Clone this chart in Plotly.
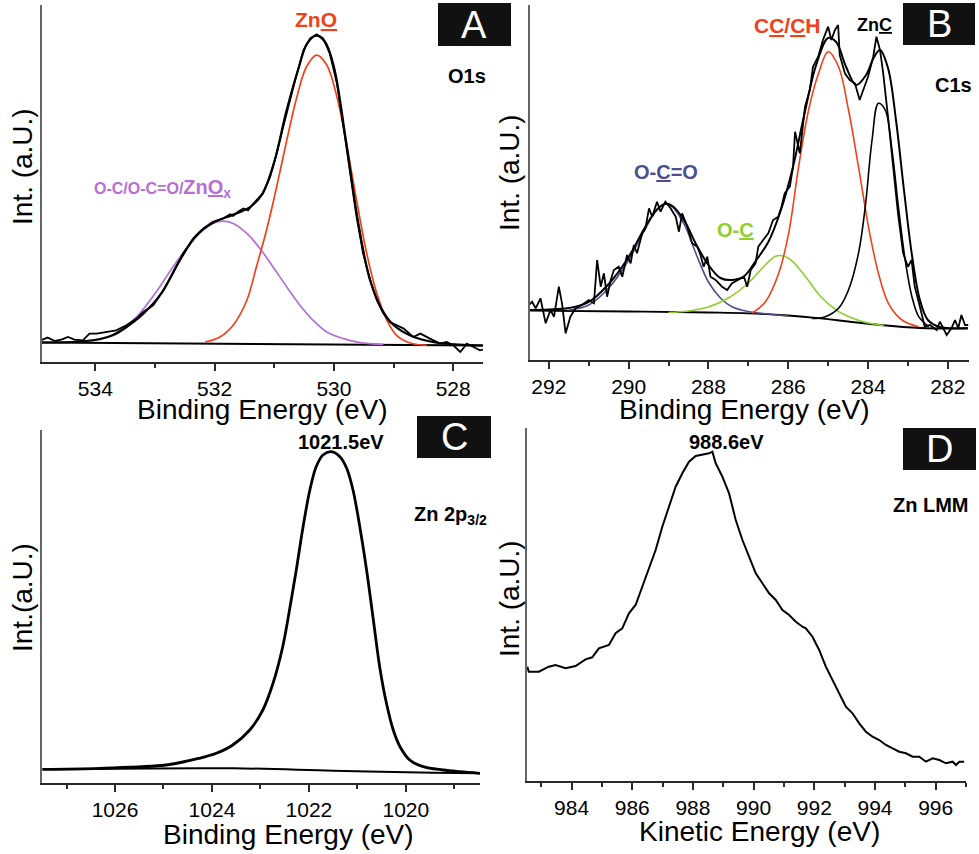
import plotly.graph_objects as go

W, H = 979, 854
FONT = "Liberation Sans, Arial, sans-serif"
RED = "#f2401b"
PURPLE = "#b56fd6"
GREEN = "#8dcf2c"
SLATE = "#4e4e8c"

# ---------------- A: O1s ----------------
a_raw_be = [534.91, 534.80, 534.68, 534.57, 534.46, 534.35, 534.21, 534.10, 533.98, 533.82,
            533.65, 533.48, 533.31, 533.20, 533.03, 532.86, 532.70, 532.53, 532.36, 532.19,
            532.03, 531.86, 531.74, 531.69, 531.60, 531.52, 531.44, 531.35, 531.19, 531.07,
            530.96, 530.85, 530.74, 530.62, 530.51, 530.40, 530.29, 530.18, 530.07, 529.95,
            529.84, 529.73, 529.62, 529.51, 529.39, 529.28, 529.17, 529.06, 528.95, 528.83,
            528.67, 528.55, 528.39, 528.22, 528.11, 528.00, 527.88, 527.77, 527.66, 527.55,
            527.50]
a_raw_int = [21.7, 24.4, 21.0, 22.4, 25.0, 22.4, 21.7, 28.4, 28.4, 30.0,
             31.7, 36.7, 43.4, 50.0, 56.7, 71.7, 88.4, 108.4, 123.4, 133.4,
             140.0, 143.4, 147.5, 146.0, 150.5, 153.4, 151.5, 158.4, 168.4, 185.0,
             208.4, 235.0, 261.7, 288.4, 311.7, 323.4, 327.4, 323.4, 308.4, 278.4,
             235.0, 188.4, 145.0, 108.4, 81.7, 61.7, 48.4, 40.0, 36.7, 33.4,
             25.0, 28.4, 23.4, 18.4, 20.0, 16.7, 10.0, 18.4, 15.0, 11.7,
             12.4]
a_fit_be = [534.9, 534.4, 534.0, 533.7, 533.5, 533.2, 532.9, 532.6, 532.3, 532.0,
            531.7, 531.4, 531.2, 531.0, 530.8, 530.6, 530.45, 530.3, 530.15, 530.0,
            529.8, 529.6, 529.4, 529.2, 529.0, 528.7, 528.3, 527.9, 527.5]
a_fit_int = [19.5, 20.0, 22.0, 27.0, 34.0, 48.0, 68.0, 100.0, 127.0, 140.0,
             147.0, 155.0, 168.0, 200.0, 250.0, 292.0, 318.0, 326.0, 320.0, 295.0,
             222.0, 142.0, 83.0, 53.0, 37.0, 26.0, 19.5, 17.3, 16.5]
a_zno_be = [532.16, 531.91, 531.69, 531.46, 531.30, 531.13, 530.96, 530.79, 530.62, 530.46,
            530.29, 530.12, 529.95, 529.79, 529.62, 529.45, 529.28, 529.11, 528.95, 528.72,
            528.44]
a_zno_int = [20.0, 25.0, 36.7, 61.7, 95.0, 131.7, 175.0, 221.7, 265.0, 295.0,
             306.7, 296.7, 265.0, 218.4, 161.7, 108.4, 68.4, 41.7, 26.7, 19.0,
             16.7]
a_ox_be = [534.3, 533.8, 533.5, 533.25, 532.98, 532.70, 532.47, 532.25, 532.03, 531.86,
           531.69, 531.46, 531.24, 531.02, 530.79, 530.57, 530.35, 530.12, 529.84, 529.56,
           529.17]
a_ox_int = [20.5, 25.0, 35.0, 49.0, 70.0, 95.0, 113.4, 128.4, 138.4, 140.7,
            138.4, 128.4, 113.4, 95.0, 75.0, 56.7, 41.7, 30.0, 23.4, 19.4,
            17.7]
a_bg_be = [534.9, 527.5]
a_bg_int = [19.4, 16.5]

# ---------------- B: C1s ----------------
b_raw_be = [292.50, 292.42, 292.33, 292.21, 292.08, 291.96, 291.87, 291.75, 291.67, 291.58,
            291.46, 291.33, 291.17, 291.00, 290.87, 290.79, 290.70, 290.62, 290.54, 290.45,
            290.37, 290.25, 290.16, 290.04, 289.95, 289.87, 289.79, 289.66, 289.58, 289.49,
            289.41, 289.29, 289.20, 289.08, 288.95, 288.82, 288.74, 288.66, 288.53, 288.41,
            288.28, 288.20, 288.12, 288.03, 287.95, 287.82, 287.66, 287.53, 287.41, 287.24,
            287.11, 287.03, 286.94, 286.82, 286.75, 286.63, 286.50, 286.38, 286.25, 286.17,
            286.09, 285.96, 285.88, 285.83, 285.71, 285.58, 285.46, 285.38, 285.25, 285.13,
            285.00, 284.92, 284.83, 284.75, 284.71, 284.58, 284.46, 284.33, 284.21, 284.12,
            284.00, 283.87, 283.79, 283.70, 283.62, 283.50, 283.37, 283.25, 283.12, 283.00,
            282.91, 282.83, 282.70, 282.58, 282.45, 282.28, 282.20, 282.12, 282.03, 281.91,
            281.82, 281.74, 281.66, 281.57, 281.49]
b_raw_int = [55.0, 58.3, 51.7, 61.7, 36.7, 50.0, 43.3, 73.3, 56.7, 26.7,
             43.3, 51.7, 55.0, 60.0, 56.7, 100.0, 73.3, 86.7, 63.3, 80.0,
             90.0, 93.3, 83.3, 105.0, 96.7, 115.0, 106.7, 126.7, 131.7, 151.7,
             143.3, 158.3, 148.3, 158.3, 151.7, 143.3, 128.3, 146.7, 133.3, 116.7,
             113.3, 105.0, 93.3, 103.3, 83.3, 80.0, 73.3, 70.0, 76.7, 80.0,
             83.3, 73.3, 90.0, 96.7, 113.3, 120.0, 126.7, 140.0, 143.3, 153.3,
             166.7, 173.3, 193.3, 228.3, 206.7, 253.3, 270.0, 293.3, 303.3, 320.0,
             333.3, 320.0, 330.0, 335.0, 305.0, 286.7, 280.0, 276.7, 260.0, 270.0,
             283.3, 303.3, 323.3, 310.0, 286.7, 243.3, 193.3, 146.7, 106.7, 93.3,
             100.0, 73.3, 53.3, 33.3, 35.0, 30.0, 38.3, 31.7, 25.0, 31.7,
             40.0, 31.7, 45.0, 35.0, 35.0]
b_fit_be = [292.5, 292.0, 291.5, 291.0, 290.5, 290.0, 289.6, 289.3, 289.1, 288.9,
            288.6, 288.3, 288.0, 287.7, 287.4, 287.1, 286.8, 286.5, 286.2, 285.9,
            285.6, 285.3, 285.0, 284.8, 284.55, 284.3, 284.05, 283.85, 283.7, 283.5,
            283.3, 283.1, 282.9, 282.7, 282.5, 282.2, 281.5]
b_fit_int = [50.0, 50.5, 52.0, 58.0, 76.0, 103.0, 132.0, 150.0, 156.0, 154.0,
             139.0, 115.0, 95.0, 82.0, 80.0, 84.0, 100.0, 118.0, 148.0, 190.0,
             245.0, 295.0, 322.0, 318.0, 293.0, 275.0, 285.0, 303.0, 310.0, 292.0,
             240.0, 170.0, 105.0, 60.0, 40.0, 33.0, 32.0]
b_oco_be = [291.5, 291.0, 290.5, 290.0, 289.6, 289.3, 289.1, 288.9, 288.6, 288.3,
            288.0, 287.7, 287.4, 287.0, 286.5, 286.0]
b_oco_int = [50.0, 55.0, 72.0, 100.0, 130.0, 150.0, 156.0, 153.0, 135.0, 105.0,
             78.0, 62.0, 53.0, 48.5, 46.0, 44.0]
b_oc_be = [289.0, 288.5, 288.0, 287.5, 287.0, 286.6, 286.3, 286.0, 285.6, 285.2,
           284.8, 284.4, 284.0, 283.6]
b_oc_int = [47.5, 49.0, 53.0, 62.0, 77.0, 94.0, 104.0, 102.0, 85.0, 64.0,
            50.0, 42.0, 37.0, 34.5]
b_cc_be = [286.91, 286.57, 286.24, 285.99, 285.74, 285.49, 285.24, 285.00, 284.74, 284.49,
           284.24, 283.99, 283.74, 283.49, 283.15, 282.73]
b_cc_int = [46.7, 58.3, 86.7, 126.7, 193.3, 250.0, 286.7, 308.3, 293.3, 250.0,
            193.3, 133.3, 86.7, 56.7, 40.0, 33.3]
b_znc_be = [285.40, 285.07, 284.74, 284.49, 284.24, 284.07, 283.90, 283.74, 283.57, 283.40,
            283.24, 283.07, 282.90, 282.73, 282.48]
b_znc_int = [41.5, 43.3, 51.7, 70.0, 106.7, 153.3, 220.0, 256.7, 250.0, 210.0,
             153.3, 100.0, 63.3, 43.3, 33.3]
b_bg_be = [292.5, 290.0, 288.0, 287.0, 286.0, 285.2, 284.5, 283.7, 282.7, 281.5]
b_bg_int = [49.3, 48.5, 47.5, 46.7, 44.5, 41.7, 38.5, 35.0, 32.0, 31.5]

# ---------------- C: Zn 2p3/2 ----------------
c_be = [1027.50, 1026.32, 1024.95, 1024.26, 1023.91, 1023.57, 1023.22, 1022.95, 1022.74, 1022.54,
        1022.40, 1022.26, 1022.12, 1021.98, 1021.85, 1021.71, 1021.54, 1021.36, 1021.22, 1021.09,
        1020.95, 1020.81, 1020.67, 1020.54, 1020.40, 1020.26, 1020.12, 1019.92, 1019.64, 1019.23,
        1018.89, 1018.47]
c_int = [13.7, 14.7, 18.0, 24.7, 29.7, 38.0, 53.0, 73.0, 99.7, 136.3,
         173.0, 213.0, 256.3, 293.0, 316.3, 328.0, 331.3, 326.3, 314.7, 293.0,
         256.3, 213.0, 163.0, 116.3, 79.7, 53.0, 36.3, 23.0, 16.3, 13.0,
         11.3, 9.7]
c_bg_be = [1027.5, 1023.57, 1021.5, 1019.43, 1018.47]
c_bg_int = [13.7, 14.7, 12.3, 10.3, 9.7]

# ---------------- D: Zn LMM ----------------
d_ke = [982.54, 982.59, 982.92, 983.25, 983.47, 983.80, 984.13, 984.46, 984.68, 984.90,
        985.23, 985.45, 985.67, 985.89, 986.11, 986.33, 986.55, 986.77, 986.99, 987.21,
        987.43, 987.65, 987.87, 988.09, 988.31, 988.53, 988.64, 988.75, 988.97, 989.19,
        989.41, 989.63, 989.85, 990.07, 990.29, 990.51, 990.73, 990.95, 991.17, 991.39,
        991.61, 991.72, 991.94, 992.16, 992.38, 992.60, 992.82, 993.04, 993.26, 993.48,
        993.70, 993.92, 994.14, 994.36, 994.58, 994.80, 995.02, 995.24, 995.46, 995.68,
        995.90, 996.12, 996.34, 996.56, 996.67, 996.78, 996.94]
d_int = [114.3, 109.3, 109.3, 114.3, 116.0, 112.7, 115.0, 121.7, 123.7, 132.7,
         136.0, 147.7, 152.7, 167.7, 176.0, 194.3, 214.3, 231.0, 254.3, 274.3,
         294.3, 307.7, 319.3, 325.0, 326.0, 327.7, 329.3, 317.7, 304.3, 287.7,
         261.0, 241.0, 224.3, 207.7, 197.7, 187.7, 181.0, 171.0, 166.0, 159.3,
         154.3, 152.7, 144.3, 131.0, 114.3, 101.0, 87.7, 74.3, 67.7, 57.7,
         49.3, 44.3, 41.0, 36.0, 32.7, 29.3, 27.7, 24.3, 24.3, 19.3,
         22.7, 21.0, 17.7, 19.3, 16.0, 19.3, 19.3]


def px(x):
    return x / W


def py(y):
    return 1 - y / H


def line(x, y, ax, color="black", width=2.0, smooth=False):
    return go.Scatter(
        x=x, y=y, xaxis="x" + ax, yaxis="y" + ax, mode="lines",
        line=dict(color=color, width=width, shape="spline" if smooth else "linear"),
        showlegend=False, hoverinfo="skip",
    )


def xaxis(left, right, rng, anchor):
    return dict(
        domain=[px(left), px(right)], anchor=anchor, range=rng,
        showline=True, linecolor="#2a2a2a", linewidth=2,
        ticks="outside", ticklen=7, tickwidth=1.5, tickcolor="#2a2a2a",
        tick0=0, dtick=2,
        minor=dict(ticks="outside", ticklen=4, tickwidth=1.5, tickcolor="#2a2a2a", dtick=1),
        tickfont=dict(size=21, color="black", family=FONT),
        showgrid=False, zeroline=False,
    )


def yaxis(top, bottom, ymax, anchor):
    return dict(
        domain=[py(bottom), py(top)], anchor=anchor, range=[0, ymax],
        showline=True, linecolor="#666666", linewidth=2,
        ticks="", showticklabels=False, showgrid=False, zeroline=False,
    )


def text(x, y, s, size=20, color="black", angle=0):
    return dict(
        x=px(x), y=py(y), xref="paper", yref="paper", text=s, showarrow=False,
        xanchor="center", yanchor="middle", textangle=angle,
        font=dict(size=size, color=color, family=FONT),
    )


def box(x0, y0, x1, y1):
    return dict(
        type="rect", xref="paper", yref="paper",
        x0=px(x0), x1=px(x1), y0=py(y1), y1=py(y0),
        fillcolor="#111111", line=dict(width=0), layer="above",
    )


def main():
    fig = go.Figure()

    # A
    fig.add_trace(line(a_bg_be, a_bg_int, "", width=2))
    fig.add_trace(line(a_ox_be, a_ox_int, "", PURPLE, 1.7, True))
    fig.add_trace(line(a_zno_be, a_zno_int, "", RED, 1.7, True))
    fig.add_trace(line(a_fit_be, a_fit_int, "", width=2.2, smooth=True))
    fig.add_trace(line(a_raw_be, a_raw_int, "", width=1.8))
    # B
    fig.add_trace(line(b_bg_be, b_bg_int, "2", width=1.8, smooth=True))
    fig.add_trace(line(b_oco_be, b_oco_int, "2", SLATE, 1.6, True))
    fig.add_trace(line(b_oc_be, b_oc_int, "2", GREEN, 1.6, True))
    fig.add_trace(line(b_cc_be, b_cc_int, "2", RED, 1.6, True))
    fig.add_trace(line(b_znc_be, b_znc_int, "2", "black", 1.6, True))
    fig.add_trace(line(b_fit_be, b_fit_int, "2", width=2, smooth=True))
    fig.add_trace(line(b_raw_be, b_raw_int, "2", width=1.8))
    # C
    fig.add_trace(line(c_bg_be, c_bg_int, "3", width=2, smooth=True))
    fig.add_trace(line(c_be, c_int, "3", width=2.8, smooth=True))
    # D
    fig.add_trace(line(d_ke, d_int, "4", width=2))

    annotations = [
        # axis titles
        text(262, 409, "Binding Energy (eV)", 28),
        text(744, 409, "Binding Energy (eV)", 28),
        text(288, 834, "Binding Energy (eV)", 28),
        text(759, 831, "Kinetic Energy (eV)", 28),
        text(22, 167, "Int. (a.U.)", 28, angle=-90),
        text(509, 173, "Int. (a.U.)", 28, angle=-90),
        text(22, 598, "Int.(a.U.)", 28, angle=-90),
        text(509, 599, "Int. (a.U.)", 28, angle=-90),
        # panel letters
        text(474, 25, "A", 38, "white"),
        text(939, 24, "B", 38, "white"),
        text(454, 437, "C", 38, "white"),
        text(939, 449, "D", 38, "white"),
        # peak labels
        text(316, 19, "<b>Zn<u>O</u></b>", 21, RED),
        text(467, 76, "<b>O1s</b>", 20),
        text(162, 188, "<b><span style='font-size:16px'>O-C/O-C=O/</span>Zn<u>O</u><sub>x</sub></b>",
             20, PURPLE),
        text(787, 25, "<b>C<u>C</u>/<u>C</u>H</b>", 21, RED),
        text(874, 25, "<b>Zn<u>C</u></b>", 18),
        text(953, 85, "<b>C1s</b>", 20),
        text(666, 172, "<b>O-<u>C</u>=O</b>", 20, SLATE),
        text(735, 230, "<b>O-<u>C</u></b>", 20, GREEN),
        text(341, 442, "<b>1021.5eV</b>", 20),
        text(450, 515, "<b>Zn 2p<sub>3/2</sub></b>", 20),
        text(726, 442, "<b>988.6eV</b>", 20),
        text(931, 505, "<b>Zn LMM</b>", 20),
    ]

    fig.update_layout(
        width=W, height=H,
        margin=dict(l=0, r=0, t=0, b=0),
        paper_bgcolor="white", plot_bgcolor="white",
        font=dict(family=FONT, color="black"),
        xaxis=xaxis(41.7, 483, [534.9, 527.5], "y"),
        yaxis=yaxis(5, 362, 356.7, "x"),
        xaxis2=xaxis(529.7, 969, [292.48, 281.47], "y2"),
        yaxis2=yaxis(5, 360, 355, "x2"),
        xaxis3=xaxis(42.3, 480, [1027.5, 1018.47], "y3"),
        yaxis3=yaxis(430, 783, 353, "x3"),
        xaxis4=xaxis(526.7, 966, [982.52, 997.0], "y4"),
        yaxis4=yaxis(428, 781, 353, "x4"),
        shapes=[box(438, 3, 511, 46), box(903, 3, 975, 45), box(417, 416, 491, 458), box(903, 428, 976, 470)],
        annotations=annotations,
    )
    # page has a default 8px body margin; drop it so the figure fills the window
    fig.write_html(
        "out.html",
        config={"displayModeBar": False},
        post_script="document.body.style.margin = '0';",
    )


if __name__ == "__main__":
    main()
